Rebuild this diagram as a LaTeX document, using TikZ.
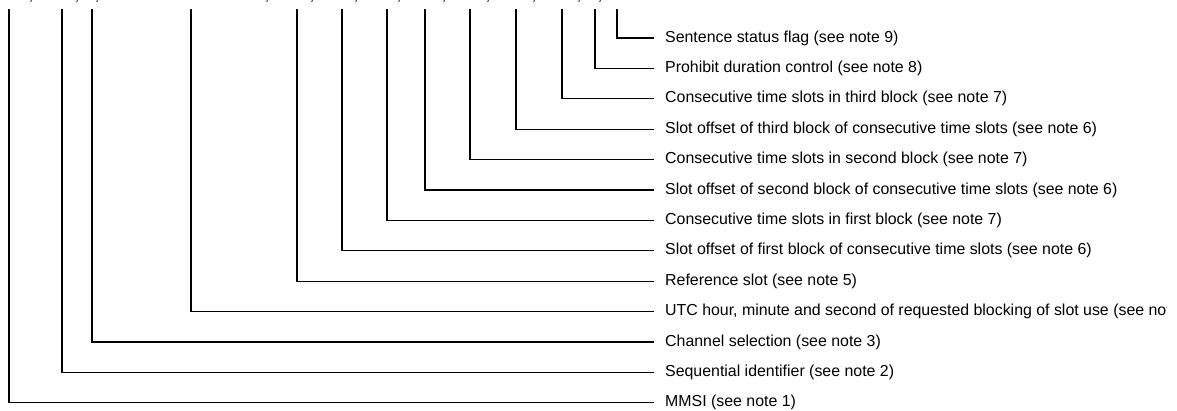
\documentclass[tikz,border=0pt]{standalone}
\usepackage{fontspec}
\setmainfont{Liberation Sans}
\begin{document}
\begin{tikzpicture}[x=1pt,y=-1pt,
  lbl/.style={anchor=west,inner xsep=12pt,inner ysep=0pt,font=\fontsize{15.9}{18}\selectfont},
  cma/.style={anchor=base,inner sep=0pt,font=\fontsize{15.9}{18}\selectfont},
  lead/.style={line width=1.2pt,line cap=rect}]
\useasboundingbox (0,0) rectangle (1177,410);
\clip (0,0) rectangle (1166,410);
% label nodes
\foreach \i/\t/\n in {0/Sentence status flag (see note 9)/l0,
  1/Prohibit duration control (see note 8)/l1,
  2/Consecutive time slots in third block (see note 7)/l2,
  3/Slot offset of third block of consecutive time slots (see note 6)/l3,
  4/Consecutive time slots in second block (see note 7)/l4,
  5/Slot offset of second block of consecutive time slots (see note 6)/l5,
  6/Consecutive time slots in first block (see note 7)/l6,
  7/Slot offset of first block of consecutive time slots (see note 6)/l7,
  8/Reference slot (see note 5)/l8,
  9/{UTC hour, minute and second of requested blocking of slot use (see note 4)}/l9,
  10/Channel selection (see note 3)/l10,
  11/Sequential identifier (see note 2)/l11,
  12/MMSI (see note 1)/l12}
  {\node[lbl] (\n) at (653,{38+30.4*\i}) {\t};}
% top coordinates
\foreach \x/\n in {617/t0,595/t1,562/t2,516/t3,470/t4,425/t5,387/t6,342/t7,297/t8,191/t9,92/t10,62/t11,9/t12}
  {\coordinate (\n) at (\x,10);}
\foreach \k in {0,...,12}
  {\draw[lead] (t\k) |- (l\k.west);}
% clipped commas of the sentence above
\foreach \x/\n in {31/c1,77/c2,97/c3,267/c4,312/c5,356/c6,399/c7,444/c8,488/c9,534/c10,579/c11,600/c12}
  {\node[cma] (\n) at (\x,0.5) {,};}
\end{tikzpicture}
\end{document}
